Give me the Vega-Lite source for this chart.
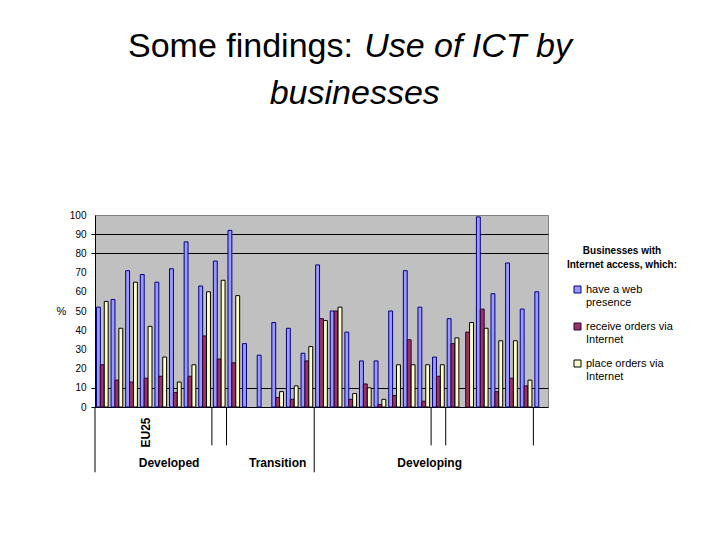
{
  "$schema": "https://vega.github.io/schema/vega-lite/v6.json",
  "description": "Businesses with Internet access: web presence, receiving and placing orders via Internet",
  "autosize": "none",
  "width": 453,
  "height": 192,
  "padding": {"left": 95, "top": 215, "right": 172, "bottom": 133},
  "title": {
    "text": "Some findings:",
    "subtitle": ["\u200b\u00a0\u00a0\u00a0\u00a0\u00a0\u00a0\u00a0\u00a0\u00a0\u00a0\u00a0\u00a0\u00a0\u00a0\u00a0\u00a0\u00a0\u00a0\u00a0\u00a0\u00a0\u00a0\u00a0\u00a0\u00a0Use of ICT by", "\u200b\u00a0\u00a0\u00a0\u00a0\u00a0\u00a0\u00a0\u00a0\u00a0\u00a0\u00a0\u00a0\u00a0\u00a0\u00a0businesses"],
    "anchor": "start",
    "frame": "group",
    "align": "left",
    "dx": 33,
    "offset": 99,
    "font": "Liberation Sans",
    "fontSize": 34,
    "fontWeight": "normal",
    "color": "black",
    "subtitleFont": "Liberation Sans",
    "subtitleFontSize": 34,
    "subtitleFontStyle": "italic",
    "subtitleColor": "black",
    "subtitleLineHeight": 47,
    "subtitlePadding": -34
  },
  "config": {
    "font": "Liberation Sans",
    "background": "white",
    "view": {"fill": "#c0c0c0", "stroke": "#808080"}
  },
  "datasets": {
    "dividers_long": [{"boundary": 0}, {"boundary": 15}],
    "dividers_short": [{"boundary": 8}, {"boundary": 9}, {"boundary": 23}, {"boundary": 24}, {"boundary": 30}],
    "levels": [
      {"level": "Developed", "mid": 5.07},
      {"level": "Transition", "mid": 12.5},
      {"level": "Developing", "mid": 22.9}
    ]
  },
  "layer": [
    {
      "data": {"values": [
        {"country": "c01", "series": "have a web presence", "value": 52},
        {"country": "c01", "series": "receive orders via Internet", "value": 22},
        {"country": "c01", "series": "place orders via Internet", "value": 55},
        {"country": "c02", "series": "have a web presence", "value": 56},
        {"country": "c02", "series": "receive orders via Internet", "value": 14},
        {"country": "c02", "series": "place orders via Internet", "value": 41},
        {"country": "c03", "series": "have a web presence", "value": 71},
        {"country": "c03", "series": "receive orders via Internet", "value": 13},
        {"country": "c03", "series": "place orders via Internet", "value": 65},
        {"country": "EU25", "series": "have a web presence", "value": 69},
        {"country": "EU25", "series": "receive orders via Internet", "value": 15},
        {"country": "EU25", "series": "place orders via Internet", "value": 42},
        {"country": "c05", "series": "have a web presence", "value": 65},
        {"country": "c05", "series": "receive orders via Internet", "value": 16},
        {"country": "c05", "series": "place orders via Internet", "value": 26},
        {"country": "c06", "series": "have a web presence", "value": 72},
        {"country": "c06", "series": "receive orders via Internet", "value": 7.5},
        {"country": "c06", "series": "place orders via Internet", "value": 13},
        {"country": "c07", "series": "have a web presence", "value": 86},
        {"country": "c07", "series": "receive orders via Internet", "value": 16},
        {"country": "c07", "series": "place orders via Internet", "value": 22},
        {"country": "c08", "series": "have a web presence", "value": 63},
        {"country": "c08", "series": "receive orders via Internet", "value": 37},
        {"country": "c08", "series": "place orders via Internet", "value": 60},
        {"country": "c09", "series": "have a web presence", "value": 76},
        {"country": "c09", "series": "receive orders via Internet", "value": 25},
        {"country": "c09", "series": "place orders via Internet", "value": 66},
        {"country": "c10", "series": "have a web presence", "value": 92},
        {"country": "c10", "series": "receive orders via Internet", "value": 23},
        {"country": "c10", "series": "place orders via Internet", "value": 58},
        {"country": "c11", "series": "have a web presence", "value": 33},
        {"country": "c12", "series": "have a web presence", "value": 27},
        {"country": "c13", "series": "have a web presence", "value": 44},
        {"country": "c13", "series": "receive orders via Internet", "value": 5},
        {"country": "c13", "series": "place orders via Internet", "value": 8},
        {"country": "c14", "series": "have a web presence", "value": 41},
        {"country": "c14", "series": "receive orders via Internet", "value": 4},
        {"country": "c14", "series": "place orders via Internet", "value": 11},
        {"country": "c15", "series": "have a web presence", "value": 28},
        {"country": "c15", "series": "receive orders via Internet", "value": 24},
        {"country": "c15", "series": "place orders via Internet", "value": 31.5},
        {"country": "c16", "series": "have a web presence", "value": 74},
        {"country": "c16", "series": "receive orders via Internet", "value": 46},
        {"country": "c16", "series": "place orders via Internet", "value": 45},
        {"country": "c17", "series": "have a web presence", "value": 50},
        {"country": "c17", "series": "receive orders via Internet", "value": 50},
        {"country": "c17", "series": "place orders via Internet", "value": 52},
        {"country": "c18", "series": "have a web presence", "value": 39},
        {"country": "c18", "series": "receive orders via Internet", "value": 4},
        {"country": "c18", "series": "place orders via Internet", "value": 7},
        {"country": "c19", "series": "have a web presence", "value": 24},
        {"country": "c19", "series": "receive orders via Internet", "value": 12},
        {"country": "c19", "series": "place orders via Internet", "value": 10},
        {"country": "c20", "series": "have a web presence", "value": 24},
        {"country": "c20", "series": "receive orders via Internet", "value": 1.3},
        {"country": "c20", "series": "place orders via Internet", "value": 4},
        {"country": "c21", "series": "have a web presence", "value": 50},
        {"country": "c21", "series": "receive orders via Internet", "value": 6},
        {"country": "c21", "series": "place orders via Internet", "value": 22},
        {"country": "c22", "series": "have a web presence", "value": 71},
        {"country": "c22", "series": "receive orders via Internet", "value": 35},
        {"country": "c22", "series": "place orders via Internet", "value": 22},
        {"country": "c23", "series": "have a web presence", "value": 52},
        {"country": "c23", "series": "receive orders via Internet", "value": 3},
        {"country": "c23", "series": "place orders via Internet", "value": 22},
        {"country": "c24", "series": "have a web presence", "value": 26},
        {"country": "c24", "series": "receive orders via Internet", "value": 16},
        {"country": "c24", "series": "place orders via Internet", "value": 22},
        {"country": "c25", "series": "have a web presence", "value": 46},
        {"country": "c25", "series": "receive orders via Internet", "value": 33},
        {"country": "c25", "series": "place orders via Internet", "value": 36},
        {"country": "c26", "series": "receive orders via Internet", "value": 39},
        {"country": "c26", "series": "place orders via Internet", "value": 44},
        {"country": "c27", "series": "have a web presence", "value": 99},
        {"country": "c27", "series": "receive orders via Internet", "value": 51},
        {"country": "c27", "series": "place orders via Internet", "value": 41},
        {"country": "c28", "series": "have a web presence", "value": 59},
        {"country": "c28", "series": "receive orders via Internet", "value": 8},
        {"country": "c28", "series": "place orders via Internet", "value": 34.5},
        {"country": "c29", "series": "have a web presence", "value": 75},
        {"country": "c29", "series": "receive orders via Internet", "value": 15},
        {"country": "c29", "series": "place orders via Internet", "value": 34.5},
        {"country": "c30", "series": "have a web presence", "value": 51},
        {"country": "c30", "series": "receive orders via Internet", "value": 11},
        {"country": "c30", "series": "place orders via Internet", "value": 14},
        {"country": "c31", "series": "have a web presence", "value": 60}
      ]},
      "mark": {"type": "bar", "strokeWidth": 1},
      "encoding": {
        "x": {
          "field": "country",
          "type": "nominal",
          "sort": null,
          "scale": {"paddingInner": 0.2, "paddingOuter": 0.1},
          "axis": {
            "title": null,
            "ticks": false,
            "domainColor": "black",
            "labelExpr": "datum.value == 'EU25' ? 'EU25' : ''",
            "labelAngle": -90,
            "labelAlign": "right",
            "labelBaseline": "middle",
            "labelPadding": 10,
            "labelFontSize": 12,
            "labelFontWeight": "bold",
            "labelColor": "black",
            "labelOverlap": false
          }
        },
        "xOffset": {
          "field": "series",
          "type": "nominal",
          "scale": {"domain": ["have a web presence", "receive orders via Internet", "place orders via Internet"], "paddingInner": 0, "paddingOuter": 0}
        },
        "y": {
          "field": "value",
          "type": "quantitative",
          "scale": {"domain": [0, 100], "nice": false},
          "axis": {
            "title": "%",
            "titleAngle": 0,
            "titleX": -34,
            "titleY": 96,
            "titleAlign": "center",
            "titleBaseline": "middle",
            "titleFontSize": 11,
            "titleFontWeight": "normal",
            "titleColor": "black",
            "values": [0, 10, 20, 30, 40, 50, 60, 70, 80, 90, 100],
            "labelOverlap": false,
            "grid": true,
            "gridColor": {"condition": {"test": "datum.value == 10 || datum.value == 80 || datum.value == 90", "value": "black"}, "value": "transparent"},
            "gridOpacity": 1,
            "tickColor": {"condition": {"test": "datum.value == 0 || datum.value == 10 || datum.value == 80 || datum.value == 90", "value": "black"}, "value": "transparent"},
            "tickSize": 4,
            "labelPadding": 5,
            "labelFontSize": 10,
            "labelColor": "black",
            "domainColor": "black"
          }
        },
        "color": {
          "field": "series",
          "type": "nominal",
          "scale": {"domain": ["have a web presence", "receive orders via Internet", "place orders via Internet"], "range": ["#9999ff", "#993366", "#ffffcc"]},
          "legend": {
            "orient": "none",
            "legendX": 472,
            "legendY": 31,
            "title": ["Businesses with", "Internet access, which:"],
            "titleFontSize": 10,
            "titleFontWeight": "bold",
            "titleColor": "black",
            "titleAlign": "center",
            "titleAnchor": "middle",
            "titleLineHeight": 14,
            "titlePadding": 14,
            "labelFontSize": 11,
            "labelColor": "black",
            "labelLimit": 200,
            "labelOffset": 3,
            "labelExpr": "datum.label == 'have a web presence' ? ['have a web', 'presence'] : datum.label == 'receive orders via Internet' ? ['receive orders via', 'Internet'] : ['place orders via', 'Internet']",
            "symbolType": "square",
            "symbolSize": 49,
            "symbolStrokeColor": "black",
            "symbolStrokeWidth": 1,
            "rowPadding": 12
          }
        },
        "stroke": {
          "field": "series",
          "type": "nominal",
          "scale": {"domain": ["have a web presence", "receive orders via Internet", "place orders via Internet"], "range": ["#000080", "#330033", "#000000"]},
          "legend": null
        }
      }
    },
    {
      "data": {"name": "dividers_long"},
      "mark": {"type": "rule", "color": "black", "strokeWidth": 1},
      "encoding": {
        "x": {"field": "boundary", "type": "quantitative", "scale": {"domain": [0, 31]}, "axis": null},
        "y": {"datum": 0, "type": "quantitative", "scale": {"domain": [0, 100], "nice": false}, "axis": null},
        "y2": {"datum": -34}
      }
    },
    {
      "data": {"name": "dividers_short"},
      "mark": {"type": "rule", "color": "black", "strokeWidth": 1},
      "encoding": {
        "x": {"field": "boundary", "type": "quantitative", "scale": {"domain": [0, 31]}, "axis": null},
        "y": {"datum": 0, "type": "quantitative", "scale": {"domain": [0, 100], "nice": false}, "axis": null},
        "y2": {"datum": -20}
      }
    },
    {
      "data": {"name": "levels"},
      "mark": {"type": "text", "fontSize": 12, "fontWeight": "bold", "color": "black", "baseline": "middle", "align": "center"},
      "encoding": {
        "x": {"field": "mid", "type": "quantitative", "scale": {"domain": [0, 31]}, "axis": null},
        "y": {"datum": -29.4, "type": "quantitative", "scale": {"domain": [0, 100], "nice": false}, "axis": null},
        "text": {"field": "level"}
      }
    }
  ],
  "resolve": {"scale": {"x": "independent"}, "axis": {"x": "independent", "y": "independent"}}
}
